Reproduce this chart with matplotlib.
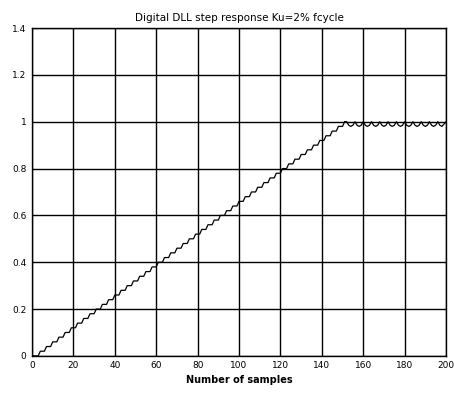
import matplotlib
matplotlib.use('Agg')
import matplotlib.pyplot as plt

# ramp: sample where each 0.02 step starts
ramp_x = [0, 4, 7, 10, 13, 16, 19, 22, 25, 28, 31, 34, 37, 40, 43, 46, 49, 52, 55,
          58, 61, 64, 67, 70, 73, 76, 79, 82, 85, 88, 91, 94, 97, 100, 103, 106,
          109, 112, 115, 118, 121, 124, 127, 130, 133, 136, 139, 142, 145, 148, 151]
ramp_y = [0.00, 0.02, 0.04, 0.06, 0.08, 0.10, 0.12, 0.14, 0.16, 0.18, 0.20, 0.22,
          0.24, 0.26, 0.28, 0.30, 0.32, 0.34, 0.36, 0.38, 0.40, 0.42, 0.44, 0.46,
          0.48, 0.50, 0.52, 0.54, 0.56, 0.58, 0.60, 0.62, 0.64, 0.66, 0.68, 0.70,
          0.72, 0.74, 0.76, 0.78, 0.80, 0.82, 0.84, 0.86, 0.88, 0.90, 0.92, 0.94,
          0.96, 0.98, 1.00]

# limit cycle around 1 after lock
tail_x = [151, 152, 153, 154, 155, 156, 157, 158, 159, 160, 161, 162, 163, 164,
          165, 166, 167, 168, 169, 170, 171, 172, 173, 174, 175, 176, 177, 178,
          179, 180, 181, 182, 183, 184, 185, 186, 187, 188, 189, 190, 191, 192,
          193, 194, 195, 196, 197, 198, 199, 200]
tail_y = [1.00, 1.00, 0.985, 0.98, 0.985, 1.00, 0.985, 0.98, 0.985, 1.00, 0.985,
          0.98, 0.985, 1.00, 0.985, 0.98, 0.985, 1.00, 0.985, 0.98, 0.985, 1.00,
          0.985, 0.98, 0.985, 1.00, 0.985, 0.98, 0.985, 1.00, 0.985, 0.98, 0.985,
          1.00, 0.985, 0.98, 0.985, 1.00, 0.985, 0.98, 0.985, 1.00, 0.985, 0.98,
          0.985, 1.00, 0.985, 0.98, 0.99, 1.00]

xticks = [0, 20, 40, 60, 80, 100, 120, 140, 160, 180, 200]
yticks = [0, 0.2, 0.4, 0.6, 0.8, 1.0, 1.2, 1.4]
ytick_labels = ['0', '0.2', '0.4', '0.6', '0.8', '1', '1.2', '1.4']

# sampled signal: hold each level until one sample before the next step
px, py = [], []
for i in range(len(ramp_x)):
    px.append(ramp_x[i]); py.append(ramp_y[i])
    if i + 1 < len(ramp_x):
        px.append(ramp_x[i + 1] - 1); py.append(ramp_y[i])

fig = plt.figure(figsize=(4.54, 3.95), dpi=100)
ax = fig.add_axes([0.0705, 0.099, 0.912, 0.83])

ax.plot(px, py, color='black', linewidth=0.9)
ax.plot(tail_x, tail_y, color='black', linewidth=0.9)

ax.set_xlim(0, 200)
ax.set_ylim(0, 1.4)
ax.set_xticks(xticks)
ax.set_yticks(yticks)
ax.set_yticklabels(ytick_labels)
ax.tick_params(labelsize=6.5, length=0, pad=4)

ax.grid(True, color='black', linewidth=1.0, linestyle='-')
for s in ax.spines.values():
    s.set_color('black')
    s.set_linewidth(1.0)

ax.set_title('Digital DLL step response Ku=2% fcycle', fontsize=7.5, pad=5)
ax.set_xlabel('Number of samples', fontsize=7, fontweight='bold', labelpad=3)

fig.savefig('out.png', dpi=100)
